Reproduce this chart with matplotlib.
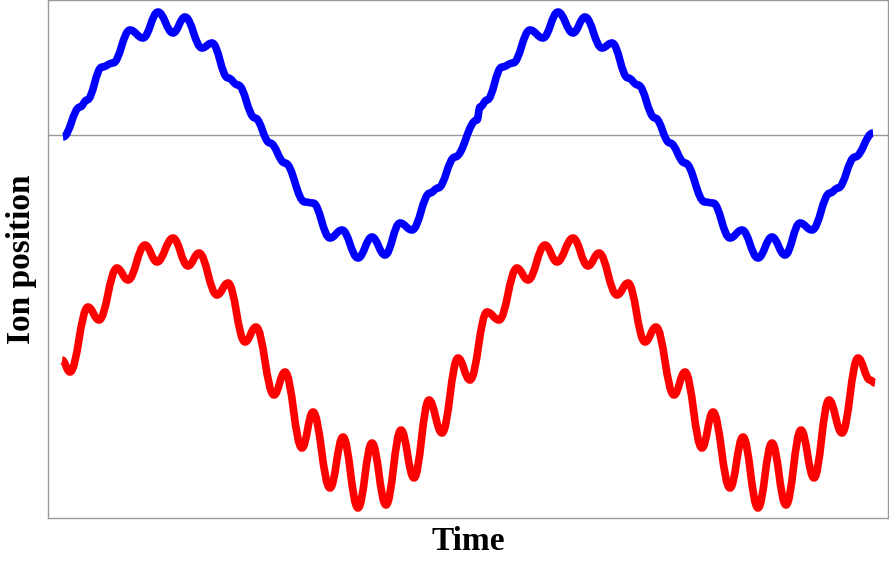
import matplotlib
matplotlib.use("Agg")
import matplotlib.pyplot as plt
from matplotlib.path import Path
from matplotlib.patches import PathPatch

# values (pixel positions of extrema / knees), two periods
blue_px = [63, 80, 87, 102, 113, 130, 143, 158, 173, 185, 202, 212, 228, 238, 255, 270, 285,
           305, 313, 330, 342, 358, 372, 385, 400, 412, 430, 438, 455,
           477, 480, 487, 502, 513, 530, 543, 558, 573, 585, 602, 612, 628, 638, 655, 670, 685,
           705, 713, 730, 742, 758, 772, 785, 800, 812, 830, 838, 855, 873]
blue_py = [137, 107, 100, 67, 63, 30, 38, 12, 33, 17, 48, 43, 78, 85, 118, 143, 163,
           202, 203, 238, 230, 258, 237, 255, 223, 230, 193, 188, 157,
           120, 107, 100, 67, 63, 30, 38, 12, 33, 17, 48, 43, 78, 85, 118, 143, 163,
           202, 203, 238, 230, 258, 237, 255, 223, 230, 193, 188, 157, 133]
red_px = [62, 70, 88, 99, 117, 128, 145, 157, 173, 188, 199, 217, 228, 245, 256, 274, 285,
          302, 313, 330, 343, 358, 372, 386, 401, 414, 429, 442, 458, 470,
          487, 499, 517, 528, 545, 557, 573, 588, 599, 617, 628, 645, 656, 674, 685,
          702, 713, 730, 743, 758, 772, 786, 801, 814, 829, 842, 858, 870, 875]
red_py = [360, 372, 307, 320, 268, 280, 245, 262, 238, 266, 253, 295, 283, 342, 327, 395, 372,
          448, 412, 488, 437, 508, 443, 505, 430, 478, 400, 433, 358, 380,
          312, 320, 268, 280, 245, 262, 238, 266, 253, 295, 283, 342, 327, 395, 372,
          448, 412, 488, 437, 508, 443, 505, 430, 478, 400, 433, 358, 380, 383]


def to_time(px):
    return [(p - 63) / 400 for p in px]


def to_pos(py):
    return [(135 - p) / 120 for p in py]


def smooth_path(xs, ys):
    # cubic segments with flat tangents at each read point
    verts = [(xs[0], ys[0])]
    codes = [Path.MOVETO]
    for i in range(1, len(xs)):
        dx = (xs[i] - xs[i - 1]) / 2.5
        verts += [(xs[i - 1] + dx, ys[i - 1]), (xs[i] - dx, ys[i]), (xs[i], ys[i])]
        codes += [Path.CURVE4] * 3
    return Path(verts, codes)


fig = plt.figure(figsize=(8.89, 5.67), dpi=100)
ax = fig.add_axes([48 / 889, 49 / 567, 840 / 889, 518 / 567])

for px, py, col in [(blue_px, blue_py, "#0000ff"), (red_px, red_py, "#ff0000")]:
    ax.add_patch(PathPatch(smooth_path(to_time(px), to_pos(py)), facecolor="none",
                           edgecolor=col, lw=5.5, capstyle="butt", joinstyle="round"))

ax.axhline(0, color="#999999", lw=1, zorder=0)
ax.set_xlim((48 - 63) / 400, (888 - 63) / 400)
ax.set_ylim((135 - 518) / 120, 135 / 120)
ax.set_xticks([])
ax.set_yticks([])
for s in ax.spines.values():
    s.set_color("#999999")
    s.set_linewidth(1)

font = dict(family="Liberation Serif", fontweight="bold", fontsize=24)
ax.set_xlabel("Time", labelpad=6, **font)
ax.set_ylabel("Ion position", labelpad=8, **font)

fig.savefig("out.png", dpi=100)
